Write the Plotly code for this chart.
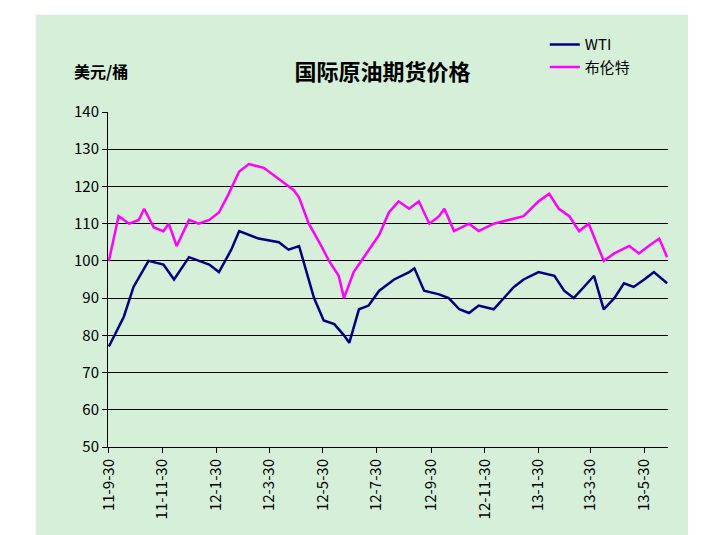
import plotly.graph_objects as go

wti_dates = ["2011-09-30", "2011-10-17", "2011-10-28", "2011-11-14", "2011-12-01", "2011-12-13",
             "2011-12-30", "2012-01-22", "2012-02-02", "2012-02-16", "2012-02-25", "2012-03-18",
             "2012-04-10", "2012-04-21", "2012-05-03", "2012-05-14", "2012-05-20", "2012-05-31",
             "2012-06-12", "2012-06-23", "2012-06-29", "2012-07-10", "2012-07-21", "2012-08-02",
             "2012-08-19", "2012-09-05", "2012-09-11", "2012-09-22", "2012-10-09", "2012-10-20",
             "2012-11-01", "2012-11-12", "2012-11-23", "2012-12-10", "2012-12-22", "2013-01-02",
             "2013-01-13", "2013-01-30", "2013-02-17", "2013-02-28", "2013-03-11", "2013-03-23",
             "2013-04-03", "2013-04-14", "2013-04-26", "2013-05-07", "2013-05-18", "2013-05-30",
             "2013-06-10", "2013-06-25"]
wti = [77, 85, 93, 100, 99, 95, 101, 99, 97, 103, 108, 106, 105, 103, 104, 95, 90, 84,
       83, 80, 78, 87, 88, 92, 95, 97, 98, 92, 91, 90, 87, 86, 88, 87, 90, 93,
       95, 97, 96, 92, 90, 93, 96, 87, 90, 94, 93, 95, 97, 94]

brent_dates = ["2011-09-30", "2011-10-11", "2011-10-23", "2011-11-03", "2011-11-09", "2011-11-20",
               "2011-12-01", "2011-12-07", "2011-12-16", "2011-12-30", "2012-01-10", "2012-01-22",
               "2012-02-02", "2012-02-13", "2012-02-25", "2012-03-07", "2012-03-24", "2012-04-10",
               "2012-04-27", "2012-05-03", "2012-05-14", "2012-05-26", "2012-06-06", "2012-06-17",
               "2012-06-23", "2012-07-04", "2012-07-21", "2012-08-02", "2012-08-13", "2012-08-24",
               "2012-09-05", "2012-09-16", "2012-09-28", "2012-10-09", "2012-10-15", "2012-10-26",
               "2012-11-12", "2012-11-23", "2012-12-10", "2012-12-27", "2013-01-13", "2013-01-30",
               "2013-02-11", "2013-02-22", "2013-03-06", "2013-03-17", "2013-03-28", "2013-04-14",
               "2013-04-26", "2013-05-13", "2013-05-24", "2013-06-04", "2013-06-16", "2013-06-25"]
brent = [100, 112, 110, 111, 114, 109, 108, 110, 104, 111, 110, 111, 113, 118, 124, 126,
         125, 122, 119, 117, 110, 105, 100, 96, 90, 97, 103, 107, 113, 116, 114, 116,
         110, 112, 114, 108, 110, 108, 110, 111, 112, 116, 118, 114, 112, 108, 110, 100,
         102, 104, 102, 104, 106, 101]

tick_dates = ["2011-09-30", "2011-11-30", "2012-01-30", "2012-03-30", "2012-05-30", "2012-07-30",
              "2012-09-30", "2012-11-30", "2013-01-30", "2013-03-30", "2013-05-30"]
tick_labels = ["11-9-30", "11-11-30", "12-1-30", "12-3-30", "12-5-30", "12-7-30",
               "12-9-30", "12-11-30", "13-1-30", "13-3-30", "13-5-30"]

font = "Noto Sans CJK SC"

fig = go.Figure()
fig.add_trace(go.Scatter(x=wti_dates, y=wti, mode="lines", name="WTI",
                         line=dict(color="#000080", width=2.5)))
fig.add_trace(go.Scatter(x=brent_dates, y=brent, mode="lines", name="布伦特",
                         line=dict(color="#ff00ff", width=2.5)))

fig.add_shape(type="rect", xref="paper", yref="paper", x0=-0.129, x1=1.036, y0=-0.3, y1=1.29,
              fillcolor="#d5efd9", line_width=0, layer="below")

fig.update_layout(
    width=720, height=535,
    margin=dict(l=100, r=60, t=104, b=96),
    paper_bgcolor="white", plot_bgcolor="#c0c0c0",
    font=dict(family=font, size=14, color="black"),
    title=dict(text="<b>国际原油期货价格</b>", x=0.52, xanchor="center", y=0.895,
               font=dict(size=22, family=font)),
    legend=dict(x=0.78, y=1.25, xanchor="left", yanchor="top", bgcolor="rgba(0,0,0,0)",
                font=dict(size=15, family=font)),
    annotations=[dict(text="<b>美元/桶</b>", xref="paper", yref="paper", x=-0.065, y=1.08,
                      xanchor="left", yanchor="bottom", showarrow=False, font=dict(size=16))],
    xaxis=dict(range=["2011-09-29", "2013-06-26"], tickvals=tick_dates, ticktext=tick_labels,
               tickangle=-90, showgrid=False, showline=True, linecolor="black",
               ticks="outside", tickcolor="black", tickfont=dict(size=15)),
    yaxis=dict(range=[50, 140], dtick=10, showgrid=True, gridcolor="black", gridwidth=1,
               showline=True, linecolor="black", ticks="outside", tickcolor="black",
               tickfont=dict(size=15)),
)

fig.write_html("out.html")
